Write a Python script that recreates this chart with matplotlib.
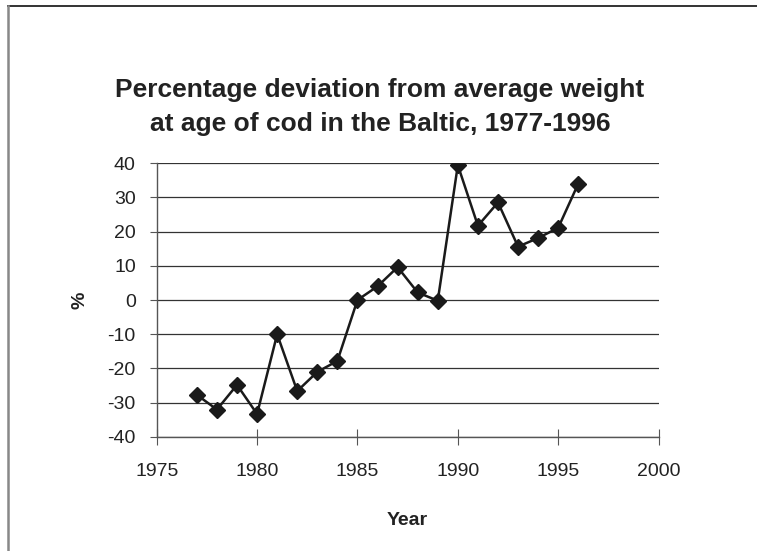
import matplotlib
matplotlib.use("Agg")
import matplotlib.pyplot as plt
from matplotlib.lines import Line2D

plt.rcParams['font.family'] = ['Liberation Sans', 'DejaVu Sans']
plt.rcParams['axes.unicode_minus'] = False

# data
years = [1977, 1978, 1979, 1980, 1981, 1982, 1983, 1984, 1985, 1986,
         1987, 1988, 1989, 1990, 1991, 1992, 1993, 1994, 1995, 1996]
deviation = [-27.7, -32.0, -24.8, -33.3, -10.0, -26.6, -21.0, -17.8, 0.0, 4.0,
             9.6, 2.2, -0.2, 39.4, 21.7, 28.5, 15.6, 18.1, 21.1, 34.0]

x_ticks = [1975, 1980, 1985, 1990, 1995, 2000]
y_ticks = [-40, -30, -20, -10, 0, 10, 20, 30, 40]

fig = plt.figure(figsize=(7.57, 5.51), dpi=100)
ax = fig.add_axes([0.207, 0.207, 0.663, 0.497])

# frame: only top and left edges show in the reference
fig.lines.append(Line2D([0.011, 1.0], [0.989, 0.989], transform=fig.transFigure,
                        color='#333333', linewidth=1.4))
fig.lines.append(Line2D([0.011, 0.011], [0.0, 0.989], transform=fig.transFigure,
                        color='#888888', linewidth=1.8))

for yv in y_ticks:
    ax.axhline(yv, color='#333333', linewidth=0.9, zorder=1)

ax.plot(years, deviation, color='#1a1a1a', linewidth=1.8, marker='D',
        markersize=8, markerfacecolor='#1a1a1a', markeredgecolor='#1a1a1a', zorder=3)

ax.set_xlim(1975, 2000)
ax.set_ylim(-40, 40)
ax.set_xticks(x_ticks)
ax.set_yticks(y_ticks)
ax.tick_params(axis='x', direction='inout', length=12, color='#555555', labelsize=14,
               pad=13, labelcolor='#222222')
ax.tick_params(axis='y', direction='out', length=5, color='#555555', labelsize=14,
               pad=10, labelcolor='#222222')

for s in ['top', 'right']:
    ax.spines[s].set_visible(False)
for s in ['left', 'bottom']:
    ax.spines[s].set_color('#555555')
    ax.spines[s].set_linewidth(1.0)

ax.set_xlabel('Year', fontsize=14, fontweight='bold', labelpad=23, color='#222222')
ax.set_ylabel('%', fontsize=14, fontweight='bold', labelpad=14, color='#222222')

fig.text(0.502, 0.806, 'Percentage deviation from average weight\nat age of cod in the Baltic, 1977-1996',
         ha='center', va='center', fontsize=19, fontweight='bold', linespacing=1.5,
         color='#222222')

fig.savefig('out.png', dpi=100)
